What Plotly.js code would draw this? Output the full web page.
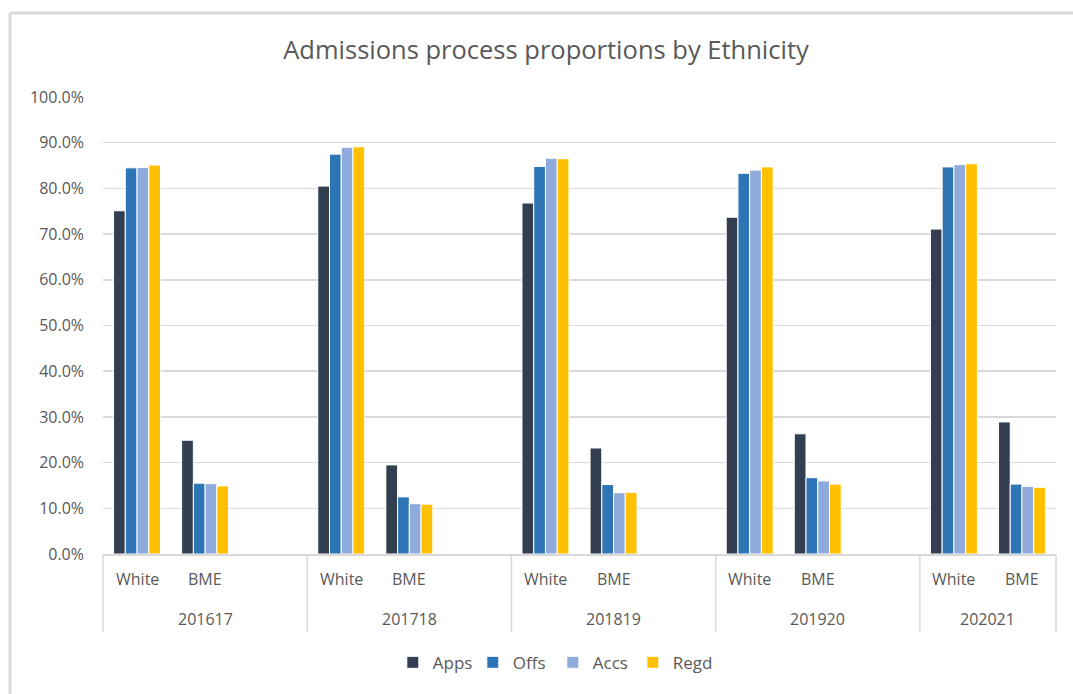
<!DOCTYPE html>
<html>
<head>
<meta charset="utf-8">
<script src="https://cdn.plot.ly/plotly-3.0.1.min.js"></script>
<style>
html,body{margin:0;padding:0;background:#fff;}
#chart{width:1073px;height:694px;}
</style>
</head>
<body>
<div id="chart"></div>
<script>
// Data
const years = ["201617", "201718", "201819", "201920", "202021"];
const groups = ["White", "BME"];
const seriesNames = ["Apps", "Offs", "Accs", "Regd"];
// values per year: [White, BME] in percent
const apps = [[75.1, 24.9], [80.5, 19.5], [76.8, 23.2], [73.7, 26.3], [71.1, 28.9]];
const offs = [[84.5, 15.5], [87.5, 12.5], [84.8, 15.2], [83.3, 16.7], [84.7, 15.3]];
const accs = [[84.6, 15.4], [89.0, 11.0], [86.6, 13.4], [84.0, 16.0], [85.2, 14.8]];
const regd = [[85.1, 14.9], [89.1, 10.9], [86.5, 13.5], [84.7, 15.3], [85.4, 14.6]];
const colors = ["#333F50", "#2E75B6", "#8FAADC", "#FFC000"];

const allSeries = [apps, offs, accs, regd];

// Build multicategory x with a blank slot after each year except the last
const outer = [], inner = [];
years.forEach((yr, i) => {
  groups.forEach(g => { outer.push(yr); inner.push(g); });
  if (i < years.length - 1) { outer.push(yr); inner.push(" "); }
});
const nSlots = outer.length;

const traces = allSeries.map((s, k) => {
  const y = [];
  years.forEach((yr, i) => {
    s[i].forEach(v => y.push(v / 100));
    if (i < years.length - 1) y.push(null);
  });
  return {
    type: "bar",
    name: seriesNames[k],
    x: [outer, inner],
    y: y,
    marker: {color: colors[k], line: {color: "#ffffff", width: 1}},
    hoverinfo: "skip"
  };
});

const font = "Open Sans, sans-serif";
const grey = "#595959";
const lineGrey = "#d9d9d9";

// Category labels (two levels) and group dividers, placed by slot index
const annotations = [];
const shapes = [];
const yInner = -0.0547, yOuter = -0.1422, yDivBottom = -0.1707;
let slot = 0;
years.forEach((yr, i) => {
  const start = slot;
  shapes.push({type: "line", xref: "paper", yref: "paper",
    x0: start / nSlots, x1: start / nSlots, y0: 0, y1: yDivBottom,
    line: {color: lineGrey, width: 1.5}});
  groups.forEach(g => {
    annotations.push({xref: "paper", yref: "paper", x: (slot + 0.5) / nSlots, y: yInner,
      text: g, showarrow: false, xanchor: "center", yanchor: "middle",
      font: {family: font, size: 16, color: grey}});
    slot++;
  });
  const span = (i < years.length - 1) ? 3 : 2;
  annotations.push({xref: "paper", yref: "paper", x: (start + span / 2) / nSlots, y: yOuter,
    text: yr, showarrow: false, xanchor: "center", yanchor: "middle",
    font: {family: font, size: 16, color: grey}});
  if (i < years.length - 1) slot++;
});
shapes.push({type: "line", xref: "paper", yref: "paper",
  x0: 1, x1: 1, y0: 0, y1: yDivBottom, line: {color: lineGrey, width: 1.5}});

// outer chart frame (top and left edges visible)
shapes.push({type: "line", xref: "paper", yref: "paper", x0: -0.0976, x1: 1.05, y0: 1.184, y1: 1.184,
  line: {color: lineGrey, width: 3}});
shapes.push({type: "line", xref: "paper", yref: "paper", x0: -0.0976, x1: -0.0976, y0: 1.184, y1: -0.35,
  line: {color: lineGrey, width: 3}});

const layout = {
  width: 1073,
  height: 694,
  margin: {l: 103, r: 17, t: 97, b: 140},
  paper_bgcolor: "#ffffff",
  plot_bgcolor: "#ffffff",
  font: {family: font, color: grey, size: 16},
  title: {
    text: "Admissions process proportions by Ethnicity",
    font: {family: font, size: 25.5, color: grey},
    x: 546 / 1073, xref: "container", xanchor: "center",
    y: 1 - 50 / 694, yref: "container", yanchor: "middle"
  },
  barmode: "group",
  bargap: 0.31,
  bargroupgap: 0,
  xaxis: {
    type: "multicategory",
    showline: true,
    linecolor: lineGrey,
    linewidth: 1.5,
    showgrid: false,
    showdividers: false,
    showticklabels: false,
    ticks: ""
  },
  yaxis: {
    range: [0, 1],
    dtick: 0.1,
    tickformat: ".1%",
    showgrid: true,
    gridcolor: lineGrey,
    gridwidth: 1.5,
    zeroline: false,
    showline: false,
    ticks: "",
    ticklabelstandoff: 18,
    tickfont: {family: font, size: 16, color: grey}
  },
  legend: {
    orientation: "h",
    x: 0.472, xanchor: "center",
    y: -0.238, yanchor: "middle",
    font: {family: font, size: 17, color: grey},
    itemwidth: 30,
    entrywidth: 35,
    entrywidthmode: "pixels",
    traceorder: "normal"
  },
  annotations: annotations,
  shapes: shapes
};

Plotly.newPlot("chart", traces, layout, {displayModeBar: false, staticPlot: true});
</script>
</body>
</html>
